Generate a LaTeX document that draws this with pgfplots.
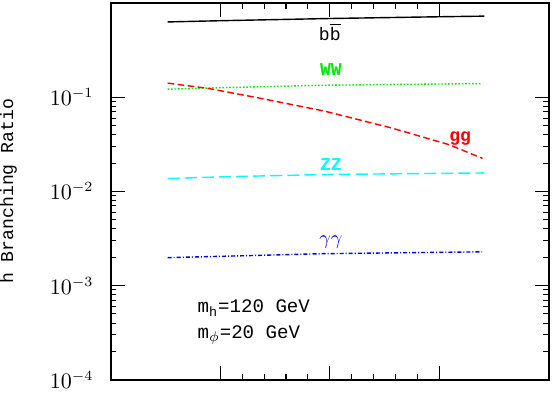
\documentclass[border=0pt]{standalone}
\usepackage{pgfplots}
\pgfplotsset{compat=1.18}
\usepackage{fontspec}
\newfontfamily\mono{Liberation Mono}
\definecolor{cy}{RGB}{0,255,255}
\definecolor{gr}{RGB}{0,235,0}
\definecolor{rd}{RGB}{255,0,0}
\definecolor{bl}{RGB}{0,0,230}

\begin{document}
\begin{tikzpicture}
\begin{axis}[
  scale only axis, width=217bp, height=186.5bp,
  xmin=0, xmax=4, ymode=log, ymin=1e-4, ymax=1,
  xtick={1,2,3}, xticklabels={}, minor x tick num=4,
  ytick={1e-4,1e-3,1e-2,1e-1},
  axis line style={line width=1bp}, tick style={line width=0.5bp, black},
  major tick length=7bp, minor tick length=2.8bp,
  yticklabel style={font=\fontsize{10.5}{12}\selectfont, xshift=-5bp},
  ylabel={h Branching Ratio},
  ylabel style={font=\mono\fontsize{9}{11}\selectfont, at={(axis description cs:-0.2535,0.5)},
    anchor=north, inner sep=0pt},
  every axis plot/.append style={line width=0.7pt},
  clip=false,
]
% b bbar
\addplot[black] coordinates {(0.52,0.630)(1.0,0.649)(2.0,0.685)(3.0,0.715)(3.41,0.726)};
% WW
\addplot[gr, dash pattern=on 0.8pt off 0.9pt] coordinates {(0.52,0.1216)(1.03,0.1264)(1.95,0.134)(3.39,0.1396)};
% gg
\addplot[rd, dash pattern=on 3.3pt off 1.7pt] coordinates {(0.52,0.141)(0.88,0.1245)(1.34,0.0988)(1.954,0.0711)(2.564,0.0471)(3.089,0.0313)(3.393,0.0224)};
% ZZ
\addplot[cy, dash pattern=on 6pt off 2.5pt] coordinates {(0.52,0.01368)(1.03,0.01428)(1.95,0.0151)(3.41,0.0157)};
% gamma gamma
\addplot[bl, dash pattern=on 2pt off 1pt on 0.5pt off 1pt] coordinates {(0.52,0.001977)(1.95,0.00218)(3.39,0.00228)};

\node[font=\mono\fontsize{9}{11}\selectfont] at (axis cs:2.0,0.489) {b$\overline{\hbox{b}}$};
\node[font=\mono\bfseries\fontsize{9}{11}\selectfont, text=gr] at (axis cs:2.01,0.196) {WW};
\node[font=\mono\bfseries\fontsize{9}{11}\selectfont, text=rd] at (axis cs:3.19,0.0368) {gg};
\node[font=\mono\bfseries\fontsize{9}{11}\selectfont, text=cy] at (axis cs:2.01,0.0191) {ZZ};
\node[font=\fontsize{10}{12}\selectfont, text=bl] at (axis cs:2.01,0.00292) {$\gamma\gamma$};
\node[font=\mono\fontsize{9.5}{11}\selectfont, anchor=west, inner sep=0pt] at (axis cs:0.79,5.75e-4) {m\textsubscript{h}=120 GeV};
\node[font=\mono\fontsize{9.5}{11}\selectfont, anchor=west, inner sep=0pt] at (axis cs:0.79,2.97e-4) {m\textsubscript{$\phi$}=20 GeV};
\end{axis}
\path ([shift={(2.5bp,1.5bp)}]current axis.north east);
\path ([yshift=-5.5bp]current axis.south west);
\end{tikzpicture}
\end{document}
